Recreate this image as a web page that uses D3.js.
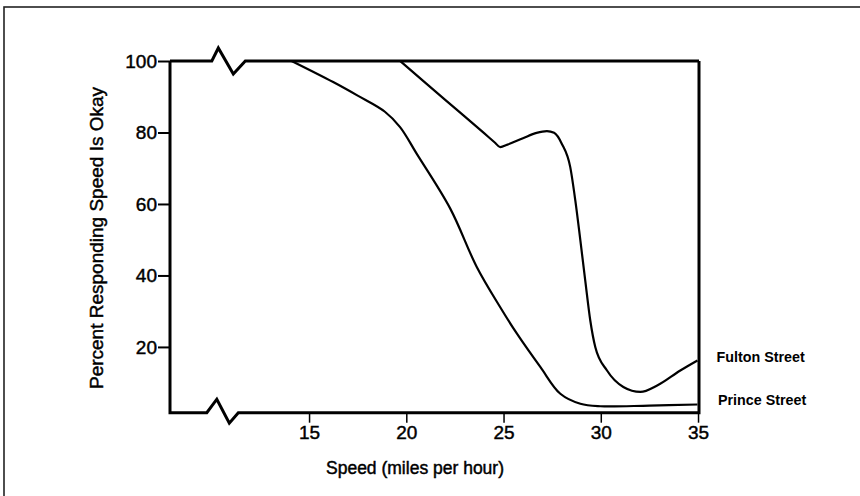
<!DOCTYPE html>
<html>
<head>
<meta charset="utf-8">
<script src="https://cdn.jsdelivr.net/npm/d3@7"></script>
<style>
  html, body { margin: 0; padding: 0; background: #fff; }
  svg { display: block; }
  text { font-family: "Liberation Sans", Arial, sans-serif; fill: #000; }
</style>
</head>
<body>
<svg id="chart" width="860" height="496"></svg>
<script>
// ---- data ----
const xTickValues = [15, 20, 25, 30, 35];
const yTickValues = [20, 40, 60, 80, 100];
const seriesNames = ["Fulton Street", "Prince Street"];
const fultonSpeed = [19.68, 21.0, 22.5, 24.0, 24.55, 24.83, 25.2, 26.0, 26.7, 27.23, 27.6, 28.0, 28.43, 28.69, 28.95, 29.2, 29.46, 29.72, 30.32, 31.16, 32.04, 32.9, 34.09, 34.97];
const fultonValue = [100, 93.8, 86.8, 79.8, 77.2, 75.9, 76.6, 78.4, 79.9, 80.4, 79.9, 76.8, 70.3, 61.0, 49.8, 38.6, 27.4, 19.9, 13.4, 8.8, 7.4, 9.2, 13.4, 16.2];
const princeSpeed = [14.1, 16.24, 17.5, 18.9, 19.68, 20.54, 22.26, 23.63, 24.83, 25.69, 26.89, 27.92, 28.95, 29.98, 32.5, 34.97];
const princeValue = [100, 94.1, 90.3, 85.8, 81.5, 74.0, 58.7, 42.3, 31.1, 23.7, 14.4, 6.9, 4.1, 3.4, 3.6, 3.9];
const xLabel = "Speed (miles per hour)";
const yLabel = "Percent Responding Speed Is Okay";
const breakSpeed = 10;

(function () {
// ---- layout ----
const svg = d3.select("#chart");
const pLeft = 170, pRight = 699, pTop = 61, pBottom = 412.7;

const x = d3.scaleLinear().domain([7.85, 35.05]).range([pLeft, pRight]);
const y = d3.scaleLinear().domain([1.6, 100]).range([pBottom, pTop]);

svg.append("rect").attr("width", 860).attr("height", 496).attr("fill", "#fff");
svg.append("rect").attr("x", 4).attr("y", 7).attr("width", 900).attr("height", 600)
  .attr("fill", "none").attr("stroke", "#222").attr("stroke-width", 1.6);

function heavy(sel) {
  sel.attr("fill", "#000").attr("stroke", "#000").attr("stroke-width", 0.45)
     .attr("font-family", "Liberation Sans, Arial, sans-serif");
}

// y axis ticks
const yAxis = d3.axisLeft(y).tickValues(yTickValues).tickSize(12).tickPadding(1).tickFormat(d3.format("d"));
const gy = svg.append("g").attr("transform", `translate(${pLeft},0)`).call(yAxis);
gy.select(".domain").remove();
gy.selectAll(".tick line").attr("stroke", "#000").attr("stroke-width", 2);
gy.selectAll(".tick text").style("font-size", "19px").call(heavy);

// x axis ticks
const xAxis = d3.axisBottom(x).tickValues(xTickValues).tickSize(10).tickPadding(3).tickFormat(d3.format("d"));
const gx = svg.append("g").attr("transform", `translate(0,${pBottom})`).call(xAxis);
gx.select(".domain").remove();
gx.selectAll(".tick line").attr("stroke", "#000").attr("stroke-width", 1.5);
gx.selectAll(".tick text").style("font-size", "19px").call(heavy);

// frame with axis breaks
const bx = x(breakSpeed);
const topPath = d3.path();
topPath.moveTo(pLeft, y(100));
topPath.lineTo(bx, y(100));
topPath.lineTo(bx + 6.5, y(100) - 13);
topPath.lineTo(bx + 21.5, y(100) + 13);
topPath.lineTo(bx + 33.5, y(100));
topPath.lineTo(pRight, y(100));
const botPath = d3.path();
botPath.moveTo(pLeft, pTop);
botPath.lineTo(pLeft, pBottom);
botPath.lineTo(bx - 5, pBottom);
botPath.lineTo(bx + 5, pBottom - 13.5);
botPath.lineTo(bx + 17.5, pBottom + 10.5);
botPath.lineTo(bx + 26.5, pBottom);
botPath.lineTo(pRight, pBottom);
botPath.lineTo(pRight, pTop);
svg.append("path").attr("d", topPath.toString()).attr("fill", "none").attr("stroke", "#000").attr("stroke-width", 3).attr("stroke-linejoin", "miter");
svg.append("path").attr("d", botPath.toString()).attr("fill", "none").attr("stroke", "#000").attr("stroke-width", 3).attr("stroke-linejoin", "miter");

// curves
const lineF = d3.line().x(d => x(d[0])).y(d => y(d[1])).curve(d3.curveMonotoneX);
const lineP = d3.line().x(d => x(d[0])).y(d => y(d[1])).curve(d3.curveCatmullRom.alpha(0.5));
const fulton = fultonSpeed.map((s, i) => [s, fultonValue[i]]);
const prince = princeSpeed.map((s, i) => [s, princeValue[i]]);
svg.append("path").datum(fulton).attr("d", lineF)
  .attr("fill", "none").attr("stroke", "#000").attr("stroke-width", 2.2);
svg.append("path").datum(prince).attr("d", lineP)
  .attr("fill", "none").attr("stroke", "#000").attr("stroke-width", 2.2);

// series labels
svg.append("text").attr("x", 716.5).attr("y", 361.5).text(seriesNames[0])
  .style("font-size", "14.3px").style("font-weight", "bold");
svg.append("text").attr("x", 718).attr("y", 405).text(seriesNames[1])
  .style("font-size", "14.3px").style("font-weight", "bold");

// axis titles
svg.append("text").attr("x", 415).attr("y", 474).attr("text-anchor", "middle")
  .style("font-size", "17.5px").call(heavy).text(xLabel);
svg.append("text").attr("transform", "translate(103,238) rotate(-90)").attr("text-anchor", "middle")
  .style("font-size", "19px").call(heavy).text(yLabel);
})();
</script>
</body>
</html>
